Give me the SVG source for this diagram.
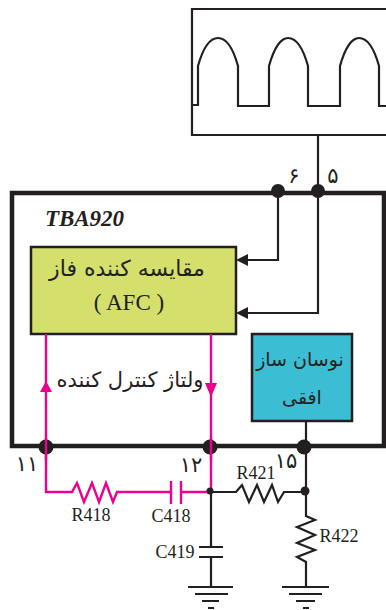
<svg xmlns="http://www.w3.org/2000/svg" width="386" height="610" viewBox="0 0 386 610">
<style>
.w{fill:none;stroke:#231f20;stroke-width:2.2}
.p{fill:none;stroke:#ec008c;stroke-width:2.4}
.t{stroke:#231f20;stroke-width:4.5;fill:none}
.d{fill:#231f20}
.l{font-family:"Liberation Serif",serif;font-size:18px;fill:#231f20;text-anchor:middle}
.f{font-family:"DejaVu Sans",sans-serif;fill:#231f20;text-anchor:middle;direction:rtl}
</style>
<rect width="386" height="610" fill="#fff"/>
<g id="waveform">
<path class="w" d="M386 135H192V9H386"/>
<path class="w" d="M192 105H198V66C203 48 210 38 218 38C226 38 233 48 238 66V106H269V66C274 48 281 38 288 38C296 38 303 48 308 66V106H340V66C345 48 352 38 359 38C367 38 374 48 379 66V106H386"/>
</g>
<g id="tba920">
<rect class="t" x="12" y="193" width="372" height="253"/>
<text x="84.500" y="226" style="font-family:'Liberation Serif',serif;font-size:23px;font-weight:bold;font-style:italic;fill:#231f20;text-anchor:middle">TBA920</text>
</g>
<g id="afc">
<rect x="31" y="247" width="205" height="87" fill="#d4df6c" stroke="#231f20" stroke-width="2.5"/>
<text class="f" x="127" y="276" font-size="22">مقایسه کننده فاز</text>
<text class="l" x="129" y="310" style="font-size:23px">( AFC )</text>
</g>
<g id="oscillator">
<rect x="252" y="334" width="100" height="87" fill="#3bbdd4" stroke="#231f20" stroke-width="2.5"/>
<text class="f" x="300" y="366" font-size="19">نوسان ساز</text>
<text class="f" x="302" y="404" font-size="19">افقی</text>
</g>
<g id="connectors">
<path class="w" d="M318 135V313H248M278 192V260H248"/>
<path class="d" d="M236 260L248 254V266ZM236 313L248 307V319Z"/>
<path class="p" d="M46 334V492H72L77 483L84 502L92 483L99 502L106 483L113 502L117 492H171M181 492H211M211 334V492"/>
<path class="p" d="M171 481V504M181 481V504"/>
<path fill="#ec008c" d="M46 381L52 392H40ZM211 397L205 383H217Z"/>
<path class="w" d="M211 492V547M199 547H223M199 557H223M211 557V587M188 587H233M195 594H228M202 601H219M208 608H214"/>
<path class="w" d="M211 492H236L242 485L249 502L257 485L264 502L272 485L278 502L284 492H306"/>
<path class="w" d="M306 421V516L315 520L297 527L315 535L297 543L315 550L297 557L306 562V587M282 587H329M289 594H322M296 601H315M303 608H309"/>
<circle class="d" cx="278" cy="191" r="7"/>
<circle class="d" cx="318" cy="191" r="7"/>
<circle class="d" cx="46" cy="447" r="7.500"/>
<circle class="d" cx="210" cy="447" r="7.500"/>
<circle class="d" cx="304" cy="447" r="7.500"/>
<circle class="d" cx="210" cy="491" r="3.500"/>
<circle class="d" cx="305" cy="491" r="4.500"/>
<path class="p" d="M46 438V460M211 438V460"/>
</g>
<g id="labels">
<text class="f" x="130" y="387" font-size="21">ولتاژ کنترل کننده</text>
<text class="f" x="294" y="183" font-size="21">۶</text>
<text class="f" x="333" y="183" font-size="21">۵</text>
<text class="f" x="27" y="471" font-size="21">۱۱</text>
<text class="f" x="191" y="472" font-size="21">۱۲</text>
<text class="f" x="286" y="468" font-size="21">۱۵</text>
<text class="l" x="91" y="521">R418</text>
<text class="l" x="171" y="522">C418</text>
<text class="l" x="175" y="558">C419</text>
<text class="l" x="256" y="479">R421</text>
<text class="l" x="339" y="542">R422</text>
</g>
</svg>
